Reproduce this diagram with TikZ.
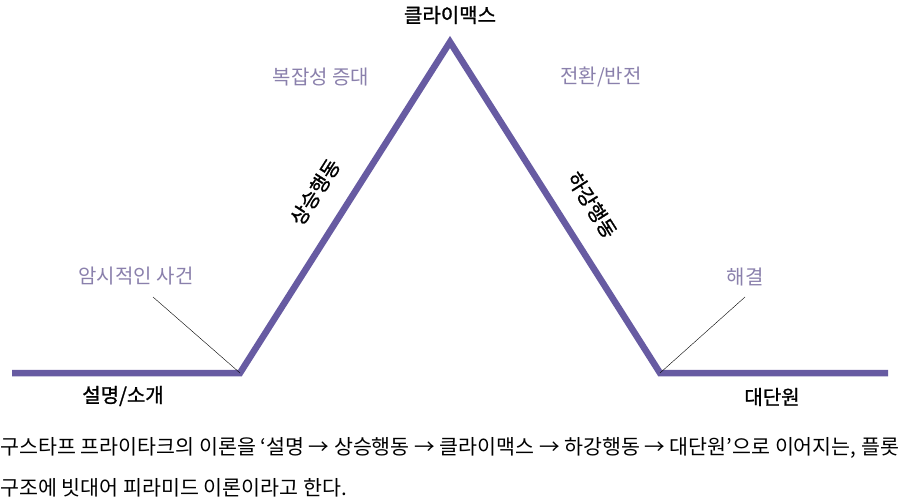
\documentclass[tikz,border=0pt]{standalone}
\usepackage{fontspec}
\setmainfont{Noto Sans CJK KR}
\newfontfamily\medfont[FakeBold=1.2]{Noto Sans CJK KR}
\usepackage{tikz}

\definecolor{plotline}{HTML}{675BA2}
\definecolor{plotnote}{HTML}{8A80AC}

\begin{document}
\begin{tikzpicture}[x=1pt, y=-1pt, thick,
  stage/.style = {font=\fontsize{20}{24}\selectfont\medfont, text=black, inner sep=0pt},
  note/.style = {font=\fontsize{20}{24}\selectfont, text=plotnote, inner sep=0pt},
  caption/.style = {font=\fontsize{20.6}{24}\selectfont, anchor=west, inner sep=0pt}]
\useasboundingbox (0,0) rectangle (900,497);
\coordinate (start) at (12,373);
\coordinate (rise) at (240,373);
\coordinate (peak) at (450,42);
\coordinate (fall) at (660,373);
\coordinate (end) at (888,373);
\node[stage] (climax) at (450,15) {클라이맥스};
\node[note] (complex) at (321,77) {복잡성 증대};
\node[note] (twist) at (601,77) {전환/반전};
\node[stage, rotate=57.6] (rising) at (315,192) {상승행동};
\node[stage, rotate=-57.6] (falling) at (592,205) {하강행동};
\node[note] (hint) at (136,276) {암시적인 사건};
\node[note] (resolve) at (745,277) {해결};
\node[stage] (intro) at (123,396) {설명/소개};
\node[stage] (ending) at (772,397) {대단원};
\coordinate (hintfoot) at (153,297);
\coordinate (resolvefoot) at (745,297);
\draw[plotline, line width=6.5pt, line join=miter] (start) -- (rise) -- (peak) -- (fall) -- (end);
\draw[thin] (hintfoot) -- (rise);
\draw[thin] (resolvefoot) -- (fall);
\node[caption] (line1) at (0,448) {구스타프 프라이타크의 이론을 ‘설명 → 상승행동 → 클라이맥스 → 하강행동 → 대단원’으로 이어지는, 플롯};
\node[caption] (line2) at (0,488) {구조에 빗대어 피라미드 이론이라고 한다.};
\end{tikzpicture}
\end{document}
